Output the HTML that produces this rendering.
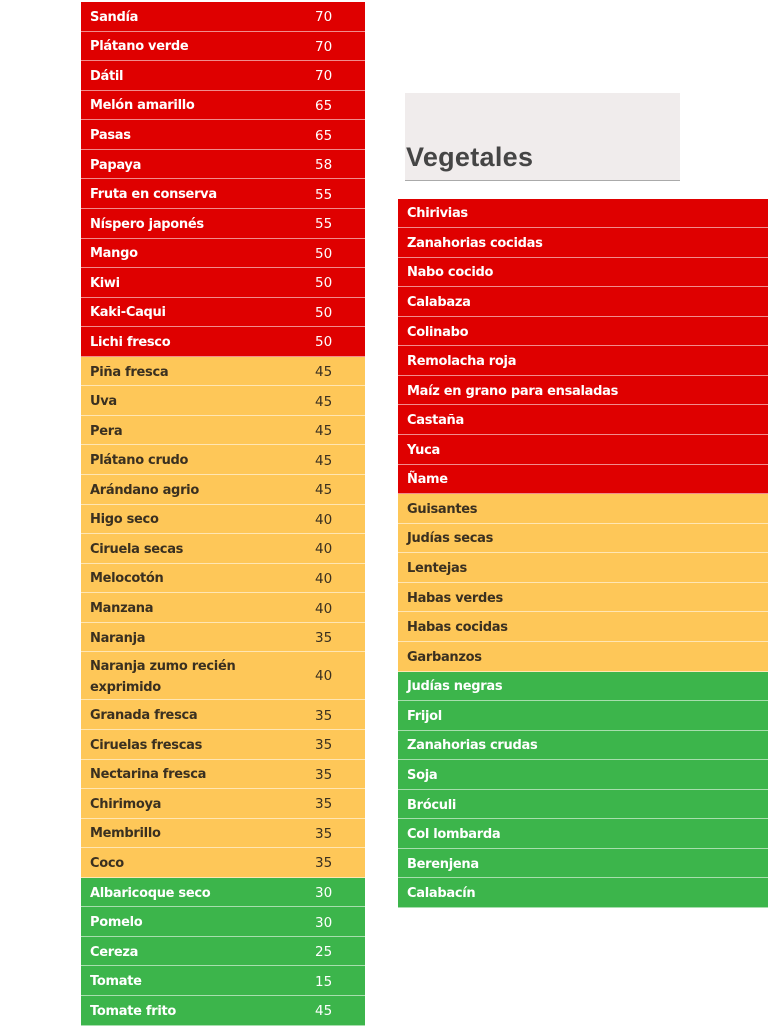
<!DOCTYPE html>
<html><head><meta charset="utf-8">
<style>
body{margin:0;width:768px;height:1024px;overflow:hidden;background:#fff;font-family:"DejaVu Sans","Liberation Sans",sans-serif;position:relative}
.t{position:absolute;}
.r{box-sizing:border-box;height:29.57px;border-bottom:1px solid rgba(255,255,255,.55);font-size:13px;font-weight:bold;display:flex;align-items:center;padding-left:9px;padding-top:2px;position:relative;letter-spacing:-0.3px}
.r span{position:absolute;left:234px;font-weight:normal;font-size:13.5px;letter-spacing:0}
.R{background:#df0000;color:#fff}
.Y{background:#fec758;color:#3a3020}
.G{background:#3cb54b;color:#fff}
.tall{height:48px}
#L{left:81px;top:2px;width:284px}
#V{left:398px;top:198.5px;width:370px}
#hd{position:absolute;left:405px;top:93px;width:275px;height:87px;background:#f0ecec;border-bottom:1.5px solid #aaa}
#hd div{position:absolute;left:1px;top:49px;font-size:27px;font-weight:bold;color:#454545;font-family:"Liberation Sans",sans-serif;letter-spacing:0.3px}
</style></head><body>
<div class="t" id="L">
<div class="r R">Sandía<span>70</span></div>
<div class="r R">Plátano verde<span>70</span></div>
<div class="r R">Dátil<span>70</span></div>
<div class="r R">Melón amarillo<span>65</span></div>
<div class="r R">Pasas<span>65</span></div>
<div class="r R">Papaya<span>58</span></div>
<div class="r R">Fruta en conserva<span>55</span></div>
<div class="r R">Níspero japonés<span>55</span></div>
<div class="r R">Mango<span>50</span></div>
<div class="r R">Kiwi<span>50</span></div>
<div class="r R">Kaki-Caqui<span>50</span></div>
<div class="r R">Lichi fresco<span>50</span></div>
<div class="r Y">Piña fresca<span>45</span></div>
<div class="r Y">Uva<span>45</span></div>
<div class="r Y">Pera<span>45</span></div>
<div class="r Y">Plátano crudo<span>45</span></div>
<div class="r Y">Arándano agrio<span>45</span></div>
<div class="r Y">Higo seco<span>40</span></div>
<div class="r Y">Ciruela secas<span>40</span></div>
<div class="r Y">Melocotón<span>40</span></div>
<div class="r Y">Manzana<span>40</span></div>
<div class="r Y">Naranja<span>35</span></div>
<div class="r Y tall" style="line-height:21px">Naranja zumo recién<br>exprimido<span>40</span></div>
<div class="r Y">Granada fresca<span>35</span></div>
<div class="r Y">Ciruelas frescas<span>35</span></div>
<div class="r Y">Nectarina fresca<span>35</span></div>
<div class="r Y">Chirimoya<span>35</span></div>
<div class="r Y">Membrillo<span>35</span></div>
<div class="r Y">Coco<span>35</span></div>
<div class="r G">Albaricoque seco<span>30</span></div>
<div class="r G">Pomelo<span>30</span></div>
<div class="r G">Cereza<span>25</span></div>
<div class="r G">Tomate<span>15</span></div>
<div class="r G">Tomate frito<span>45</span></div>
</div>
<div id="hd"><div>Vegetales</div></div>
<div class="t" id="V">
<div class="r R">Chirivias</div>
<div class="r R">Zanahorias cocidas</div>
<div class="r R">Nabo cocido</div>
<div class="r R">Calabaza</div>
<div class="r R">Colinabo</div>
<div class="r R">Remolacha roja</div>
<div class="r R">Maíz en grano para ensaladas</div>
<div class="r R">Castaña</div>
<div class="r R">Yuca</div>
<div class="r R">Ñame</div>
<div class="r Y">Guisantes</div>
<div class="r Y">Judías secas</div>
<div class="r Y">Lentejas</div>
<div class="r Y">Habas verdes</div>
<div class="r Y">Habas cocidas</div>
<div class="r Y">Garbanzos</div>
<div class="r G">Judías negras</div>
<div class="r G">Frijol</div>
<div class="r G">Zanahorias crudas</div>
<div class="r G">Soja</div>
<div class="r G">Bróculi</div>
<div class="r G">Col lombarda</div>
<div class="r G">Berenjena</div>
<div class="r G">Calabacín</div>
</div>
</body></html>
